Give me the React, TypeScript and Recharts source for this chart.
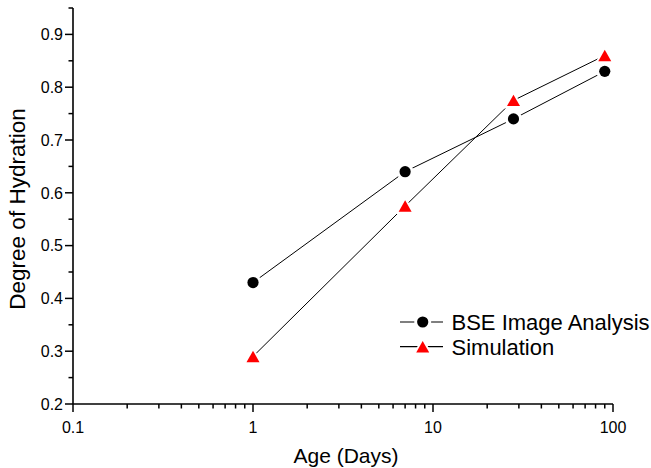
import { LineChart, Line, XAxis, YAxis, Legend } from "recharts";

// age in days, degree of hydration
const ages = [1, 7, 28, 90];
const bseValues = [0.43, 0.64, 0.74, 0.83];
const simValues = [0.29, 0.575, 0.775, 0.86];

const xDecades = [0.1, 1, 10];
const xMultipliers = [1, 2, 3, 4, 5, 6, 7, 8, 9];
const xLabels = ["0.1", "1", "10", "100"];
const yTicks = [0.2, 0.25, 0.3, 0.35, 0.4, 0.45, 0.5, 0.55, 0.6, 0.65, 0.7, 0.75, 0.8, 0.85, 0.9, 0.95];
const yLabels = ["0.2", "0.3", "0.4", "0.5", "0.6", "0.7", "0.8", "0.9"];

const seriesNames = ["BSE Image Analysis", "Simulation"];

const xTicks = [
  ...xDecades.flatMap((d) => xMultipliers.map((m) => +(d * m).toFixed(2))),
  100,
];

const data = ages.map((age, i) => ({
  age,
  bse: bseValues[i],
  sim: simValues[i],
}));

const FONT = "'Liberation Sans', Arial, sans-serif";

const XTick = (props: any) => {
  const { x, y, payload } = props;
  const label = xLabels.find((l) => Math.abs(parseFloat(l) - payload.value) < 1e-9);
  return (
    <g>
      <line x1={x} x2={x} y1={y} y2={y + (label ? 8 : 4.5)} stroke="#000" strokeWidth={1.5} />
      {label && (
        <text x={x} y={y + 29} textAnchor="middle" fontSize={16} fill="#000" fontFamily={FONT}>
          {label}
        </text>
      )}
    </g>
  );
};

const YTick = (props: any) => {
  const { x, y, payload } = props;
  const label = yLabels.find((l) => Math.abs(parseFloat(l) - payload.value) < 1e-9);
  return (
    <g>
      <line x1={x} x2={x - (label ? 8 : 4.5)} y1={y} y2={y} stroke="#000" strokeWidth={1.5} />
      {label && (
        <text x={x - 10} y={y} dy="0.36em" textAnchor="end" fontSize={16} fill="#000" fontFamily={FONT}>
          {label}
        </text>
      )}
    </g>
  );
};

const circleMarker = (cx: number, cy: number, key?: string) => (
  <g key={key}>
    <circle cx={cx} cy={cy} r={8.5} fill="#fff" />
    <circle cx={cx} cy={cy} r={5.6} fill="#000" />
  </g>
);

const triangleMarker = (cx: number, cy: number, key?: string) => (
  <g key={key}>
    <path
      d={`M${cx - 10} ${cy + 8} L${cx + 10} ${cy + 8} L${cx} ${cy - 9.5} Z`}
      fill="#fff"
    />
    <path
      d={`M${cx - 6.5} ${cy + 5.7} L${cx + 6.5} ${cy + 5.7} L${cx} ${cy - 5.7} Z`}
      fill="#ff0000"
    />
  </g>
);

const renderLegend = () => (
  <svg width={260} height={50} style={{ display: "block" }}>
    {seriesNames.map((name, i) => {
      const cy = 12 + i * 24.7;
      return (
        <g key={name}>
          <line x1={2} x2={45} y1={cy} y2={cy} stroke="#000" strokeWidth={1.2} />
          {i === 0 ? circleMarker(24.7, cy) : triangleMarker(24.7, cy)}
          <text x={53.5} y={cy} dy="0.36em" fontSize={22} fill="#000" fontFamily={FONT}>
            {name}
          </text>
        </g>
      );
    })}
  </svg>
);

const YTitle = (props: any) => {
  const { viewBox } = props;
  const x = viewBox.x + 25;
  const y = viewBox.y + viewBox.height / 2 + 3;
  return (
    <text
      x={x}
      y={y}
      transform={`rotate(-90, ${x}, ${y})`}
      textAnchor="middle"
      fontSize={22.5}
      fill="#000"
      fontFamily={FONT}
    >
      Degree of Hydration
    </text>
  );
};

const XTitle = (props: any) => {
  const { viewBox } = props;
  return (
    <text
      x={viewBox.x + viewBox.width / 2 + 3}
      y={viewBox.y + viewBox.height - 5}
      textAnchor="middle"
      fontSize={21}
      fill="#000"
      fontFamily={FONT}
    >
      Age (Days)
    </text>
  );
};

export default function App() {
  return (
    <div style={{ position: "absolute", left: 0, top: 0, background: "#fff" }}>
      <LineChart
        width={651}
        height={468}
        data={data}
        margin={{ top: 8, right: 38, bottom: 0, left: 0 }}
        style={{ fontFamily: FONT }}
      >
        <XAxis
          dataKey="age"
          type="number"
          scale="log"
          domain={[0.1, 100]}
          allowDataOverflow
          ticks={xTicks}
          interval={0}
          tick={<XTick />}
          tickLine={false}
          tickSize={0}
          tickMargin={0}
          height={64}
          axisLine={{ stroke: "#000", strokeWidth: 1.6 }}
          label={<XTitle />}
        />
        <YAxis
          type="number"
          domain={[0.2, 0.95]}
          allowDataOverflow
          ticks={yTicks}
          interval={0}
          tick={<YTick />}
          tickLine={false}
          tickSize={0}
          tickMargin={0}
          width={73}
          axisLine={{ stroke: "#000", strokeWidth: 1.6 }}
          label={<YTitle />}
        />
        <Legend
          layout="vertical"
          align="center"
          verticalAlign="middle"
          content={renderLegend}
          wrapperStyle={{ left: 398, top: 310, width: 260 }}
        />
        <Line
          type="linear"
          dataKey="bse"
          name={seriesNames[0]}
          stroke="#000"
          strokeWidth={1}
          isAnimationActive={false}
          dot={(p: any) => circleMarker(p.cx, p.cy, `b${p.index}`)}
          activeDot={false}
        />
        <Line
          type="linear"
          dataKey="sim"
          name={seriesNames[1]}
          stroke="#000"
          strokeWidth={1}
          isAnimationActive={false}
          dot={(p: any) => triangleMarker(p.cx, p.cy, `s${p.index}`)}
          activeDot={false}
        />
      </LineChart>
    </div>
  );
}
